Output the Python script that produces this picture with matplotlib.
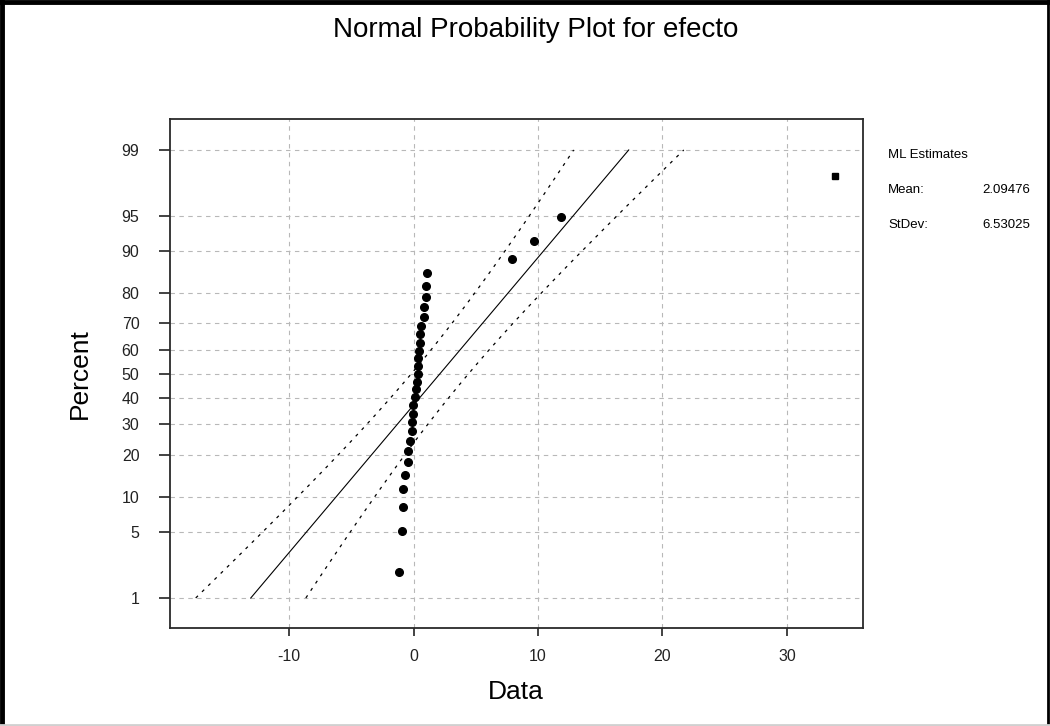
import numpy as np
import matplotlib
matplotlib.use("Agg")
import matplotlib.pyplot as plt
from matplotlib.lines import Line2D
from statistics import NormalDist

plt.rcParams['font.family'] = ['Liberation Sans', 'DejaVu Sans']

# ---------------- data ----------------
title = "Normal Probability Plot for efecto"
x_label = "Data"
y_label = "Percent"

# ordered effects (Data) and their plotted percent positions
effects = [-1.16, -0.96, -0.84, -0.84, -0.70, -0.43, -0.43, -0.30, -0.16, -0.16,
           -0.08, -0.03, 0.10, 0.18, 0.24, 0.32, 0.32, 0.37, 0.45, 0.51,
           0.51, 0.59, 0.83, 0.85, 0.99, 0.99, 1.05, 7.88, 9.69, 11.84,
           33.89]
percents = [2.0, 5.2, 8.4, 11.6, 14.8, 18.0, 21.2, 24.4, 27.6, 30.8,
            34.0, 37.2, 40.4, 43.6, 46.8, 50.0, 53.2, 56.4, 59.6, 62.8,
            66.0, 69.2, 72.4, 75.6, 78.8, 82.0, 85.2, 88.4, 91.6, 94.8,
            98.0]

ml_mean = 2.09476
ml_stdev = 6.53025
stats_labels = ["Mean:", "StDev:"]
stats_values = ["2.09476", "6.53025"]

x_ticks = [-10, 0, 10, 20, 30]
y_ticks = [1, 5, 10, 20, 30, 40, 50, 60, 70, 80, 90, 95, 99]

# ---------------- normal probability scale ----------------
_nd = NormalDist()
_ppf = np.vectorize(_nd.inv_cdf, otypes=[float])
_cdf = np.vectorize(_nd.cdf, otypes=[float])


def _fwd(p):
    p = np.clip(np.asarray(p, dtype=float) / 100.0, 1e-12, 1 - 1e-12)
    if p.size == 0:
        return p
    return _ppf(p)


def _inv(z):
    z = np.asarray(z, dtype=float)
    if z.size == 0:
        return z
    return _cdf(z) * 100.0


W, H = 1050, 726
fig = plt.figure(figsize=(W / 100, H / 100), dpi=100)
fig.patch.set_facecolor("white")

ax = fig.add_axes([170 / W, 1 - 628 / H, (863 - 170) / W, (628 - 119) / H])
ax.set_yscale("function", functions=(_fwd, _inv))
ax.set_xlim(-19.59, 36.12)
ax.set_ylim(0.417, 99.595)

grid_kw = dict(color="#b8b8b8", lw=0.8, ls=(0, (4, 4)), zorder=0)
ax.set_xticks(x_ticks)
ax.set_xticklabels([str(v) for v in x_ticks])
ax.set_yticks(y_ticks)
ax.set_yticklabels([str(v) for v in y_ticks])
ax.yaxis.set_minor_locator(matplotlib.ticker.NullLocator())
ax.xaxis.set_minor_locator(matplotlib.ticker.NullLocator())
ax.grid(True, **grid_kw)

# fitted line and confidence bands
n = len(effects)
z_lo, z_hi = _nd.inv_cdf(0.01), _nd.inv_cdf(0.99)
zz = np.linspace(z_lo, z_hi, 200)
p_line = _inv(zz)
x_fit = ml_mean + zz * ml_stdev
half = 1.96 * ml_stdev / np.sqrt(n) * np.sqrt(1 + zz ** 2 / 2)
ax.plot(x_fit, p_line, color="black", lw=0.8, zorder=2)
ax.plot(x_fit - half, p_line, color="black", lw=0.9, ls=(0, (2.5, 4.5)), zorder=2)
ax.plot(x_fit + half, p_line, color="black", lw=0.9, ls=(0, (2.5, 4.5)), zorder=2)

# points
ax.plot(effects[:-1], percents[:-1], ls="none", marker="o", ms=5.5,
        color="black", zorder=3)
ax.plot(effects[-1:], percents[-1:], ls="none", marker="s", ms=4.2,
        color="black", zorder=3)

for sp in ax.spines.values():
    sp.set_linewidth(1.3)
    sp.set_color("#2a2a2a")

ax.tick_params(axis="y", direction="out", length=8, width=1.2, pad=14,
               labelsize=11.5, colors="#222222", right=False)
ax.tick_params(axis="x", direction="out", length=6, width=1.2, pad=9,
               labelsize=11.5, colors="#222222", top=False)

# texts
fig.text(536 / W, 1 - 30 / H, title, ha="center", va="center", fontsize=20)
fig.text(80 / W, 1 - 374 / H, y_label, ha="center", va="center",
         rotation=90, fontsize=19)
fig.text(516 / W, 1 - 692 / H, x_label, ha="center", va="center", fontsize=19)

fig.text(888 / W, 1 - 155 / H, "ML Estimates", ha="left", va="center", fontsize=9.5)
for i, (lab, val) in enumerate(zip(stats_labels, stats_values)):
    yy = 1 - (190 + 35 * i) / H
    fig.text(888 / W, yy, lab, ha="left", va="center", fontsize=9.5)
    fig.text(1030 / W, yy, val, ha="right", va="center", fontsize=9.5)

# figure frame
fig.add_artist(Line2D([0.002, 0.002], [0, 1], transform=fig.transFigure,
                      color="black", lw=3.5))
fig.add_artist(Line2D([0, 1], [0.997, 0.997], transform=fig.transFigure,
                      color="black", lw=3.5))
fig.add_artist(Line2D([0.9985, 0.9985], [0, 1], transform=fig.transFigure,
                      color="black", lw=2))
fig.add_artist(Line2D([0, 1], [0.002, 0.002], transform=fig.transFigure,
                      color="#d0d0d0", lw=2))

fig.savefig("out.png", dpi=100)
